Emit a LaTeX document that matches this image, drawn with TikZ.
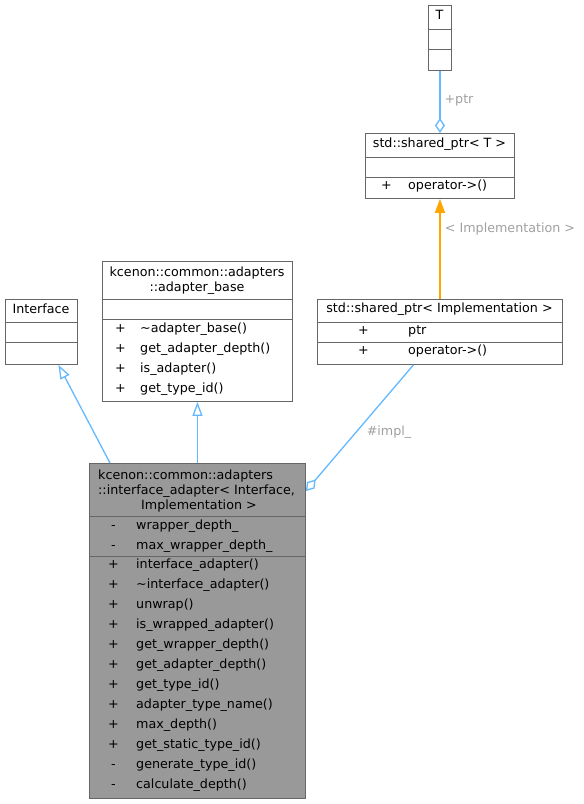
\documentclass[tikz,border=0pt]{standalone}
\usepackage{fontspec}
\setmainfont{DejaVu Sans}
\usetikzlibrary{arrows.meta}

\definecolor{edgeblue}{RGB}{99,184,255}
\definecolor{edgeorange}{RGB}{255,165,0}
\definecolor{labelgrey}{RGB}{160,160,160}
\definecolor{boxgrey}{RGB}{102,102,102}
\definecolor{mainfill}{RGB}{153,153,153}

\tikzset{
  classbox/.style={draw=boxgrey,fill=white,line width=0.9pt,inner sep=0pt,anchor=north west},
  sepline/.style={draw=boxgrey,line width=0.9pt},
  txt/.style={inner sep=0pt,anchor=mid},
  mem/.style={inner sep=0pt,anchor=mid west},
  blueedge/.style={draw=edgeblue,line width=1.3pt},
  orangeedge/.style={draw=edgeorange,line width=1.3pt},
  edgelabel/.style={inner sep=0pt,text=labelgrey}
}

\begin{document}
\begin{tikzpicture}[x=1pt,y=-1pt,font=\fontsize{12.7}{15}\selectfont]

  \useasboundingbox (0,0) rectangle (584,804);

  % T
  \node[classbox,minimum width=23pt,minimum height=65pt] (T) at (428,5) {};
  \draw[sepline] (428,29) -- (451,29);
  \draw[sepline] (428,49) -- (451,49);
  \node[txt] at (439.5,17) {T};

  % std::shared_ptr< T >
  \node[classbox,minimum width=149pt,minimum height=65pt] (SpT) at (365,133) {};
  \draw[sepline] (365,157) -- (514,157);
  \draw[sepline] (365,177) -- (514,177);
  \node[txt] at (439.5,145) {std::shared\_ptr< T >};
  \node[mem] at (381,187) {+};
  \node[mem] at (408,187) {operator->()};

  % std::shared_ptr< Implementation >
  \node[classbox,minimum width=245pt,minimum height=65pt] (SpImpl) at (317,299) {};
  \draw[sepline] (317,322) -- (562,322);
  \draw[sepline] (317,342) -- (562,342);
  \node[txt] at (439.5,310) {std::shared\_ptr< Implementation >};
  \node[mem] at (358,332) {+};
  \node[mem] at (408,332) {ptr};
  \node[mem] at (358,352) {+};
  \node[mem] at (408,352) {operator->()};

  % Interface
  \node[classbox,minimum width=72pt,minimum height=65pt] (Iface) at (5,299) {};
  \draw[sepline] (5,322) -- (77,322);
  \draw[sepline] (5,342) -- (77,342);
  \node[txt] at (41,311) {Interface};

  % adapter_base
  \node[classbox,minimum width=190pt,minimum height=140pt] (Base) at (102,261) {};
  \draw[sepline] (102,299) -- (292,299);
  \draw[sepline] (102,319) -- (292,319);
  \node[txt] at (197,274) {kcenon::common::adapters};
  \node[txt] at (197,289) {::adapter\_base};
  \node[mem] at (115,330) {+};
  \node[mem] at (140,330) {\textasciitilde adapter\_base()};
  \node[mem] at (115,350) {+};
  \node[mem] at (140,350) {get\_adapter\_depth()};
  \node[mem] at (115,370) {+};
  \node[mem] at (140,370) {is\_adapter()};
  \node[mem] at (115,390) {+};
  \node[mem] at (140,390) {get\_type\_id()};

  % interface_adapter
  \node[classbox,fill=mainfill,minimum width=216pt,minimum height=335pt] (Main) at (89,463) {};
  \draw[sepline] (89,516) -- (305,516);
  \draw[sepline] (89,556) -- (305,556);
  \node[mem] at (98,477) {kcenon::common::adapters};
  \node[mem] at (98,492) {::interface\_adapter< Interface,};
  \node[txt] at (199,507) {Implementation >};
  \node[mem] at (111,527) {-};
  \node[mem] at (136,527) {wrapper\_depth\_};
  \node[mem] at (111,547) {-};
  \node[mem] at (136,547) {max\_wrapper\_depth\_};
  \node[mem] at (108,566) {+};
  \node[mem] at (136,566) {interface\_adapter()};
  \node[mem] at (108,586) {+};
  \node[mem] at (136,586) {\textasciitilde interface\_adapter()};
  \node[mem] at (108,606) {+};
  \node[mem] at (136,606) {unwrap()};
  \node[mem] at (108,626) {+};
  \node[mem] at (136,626) {is\_wrapped\_adapter()};
  \node[mem] at (108,646) {+};
  \node[mem] at (136,646) {get\_wrapper\_depth()};
  \node[mem] at (108,666) {+};
  \node[mem] at (136,666) {get\_adapter\_depth()};
  \node[mem] at (108,686) {+};
  \node[mem] at (136,686) {get\_type\_id()};
  \node[mem] at (108,706) {+};
  \node[mem] at (136,706) {adapter\_type\_name()};
  \node[mem] at (108,726) {+};
  \node[mem] at (136,726) {max\_depth()};
  \node[mem] at (108,746) {+};
  \node[mem] at (136,746) {get\_static\_type\_id()};
  \node[mem] at (111,766) {-};
  \node[mem] at (136,766) {generate\_type\_id()};
  \node[mem] at (111,786) {-};
  \node[mem] at (136,786) {calculate\_depth()};

  % connectors
  \coordinate (IfaceTip) at ([xshift=17pt]Iface.south);
  \coordinate (MainLeft) at ([xshift=21pt]Main.north west);
  \coordinate (ImplFoot) at ([xshift=-26.5pt]SpImpl.south);
  \coordinate (MainRight) at ([yshift=-28pt]Main.north east);

  \draw[blueedge,-{Diamond[open,length=15pt,width=10pt]}] (T.south) -- (SpT.north);
  \node[edgelabel] at (459,100) {+ptr};

  \draw[orangeedge,-{Triangle[length=14pt,width=10pt]}] (SpImpl.north) -- (SpT.south);
  \node[edgelabel] at (510,229) {< Implementation >};

  \draw[blueedge,-{Triangle[open,length=14pt,width=10pt]}] (MainLeft) -- (IfaceTip);
  \draw[blueedge,-{Triangle[open,length=14pt,width=10pt]}] (Main.north) -- (Base.south);

  \draw[blueedge,-{Diamond[open,length=15pt,width=10pt]}] (ImplFoot) -- (MainRight);
  \node[edgelabel] at (389,432) {\#impl\_};

\end{tikzpicture}
\end{document}
